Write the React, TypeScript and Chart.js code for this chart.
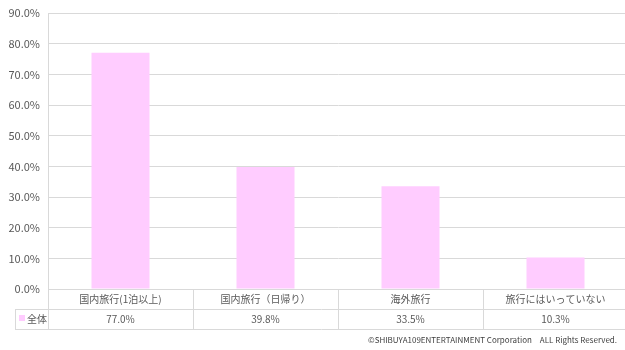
import React, { useEffect, useRef } from "react";
import { Chart, registerables } from "chart.js";

Chart.register(...registerables);

const categories = ["国内旅行(1泊以上)", "国内旅行（日帰り）", "海外旅行", "旅行にはいっていない"];
const seriesName = "全体";
const values = [77.0, 39.8, 33.5, 10.3];
const copyright = "©SHIBUYA109ENTERTAINMENT Corporation　ALL Rights Reserved.";

const PINK = "#ffccff";
const GRID = "#d9d9d9";
const TEXT = "#595959";
const FONT = "'Noto Sans CJK JP', 'Open Sans', sans-serif";

const tablePlugin = {
  id: "dataTable",
  afterDraw(chart: any) {
    const { ctx, chartArea } = chart;
    const x = chart.scales.x;
    const left = chartArea.left;
    const right = chartArea.right;
    const top = chartArea.bottom;
    const mid = top + 20;
    const bot = top + 40;
    const legendLeft = 15;
    ctx.save();
    ctx.strokeStyle = GRID;
    ctx.lineWidth = 1;
    ctx.beginPath();
    ctx.moveTo(legendLeft, mid + 0.5);
    ctx.lineTo(right, mid + 0.5);
    ctx.moveTo(legendLeft, bot + 0.5);
    ctx.lineTo(right, bot + 0.5);
    ctx.moveTo(Math.round(left) + 0.5, top);
    ctx.lineTo(Math.round(left) + 0.5, bot);
    ctx.moveTo(legendLeft + 0.5, mid);
    ctx.lineTo(legendLeft + 0.5, bot);
    const n = categories.length;
    const w = (right - left) / n;
    for (let i = 1; i < n; i++) {
      const vx = Math.round(left + w * i) + 0.5;
      ctx.moveTo(vx, top);
      ctx.lineTo(vx, bot);
    }
    ctx.stroke();

    ctx.fillStyle = TEXT;
    ctx.font = `10px ${FONT}`;
    ctx.textAlign = "center";
    ctx.textBaseline = "middle";
    categories.forEach((c, i) => {
      const cx = x.getPixelForValue(i);
      ctx.fillText(c, cx, top + 10);
      ctx.fillText(values[i].toFixed(1) + "%", cx, mid + 10);
    });
    ctx.fillStyle = PINK;
    ctx.fillRect(19, mid + 6, 6, 6);
    ctx.fillStyle = TEXT;
    ctx.textAlign = "left";
    ctx.fillText(seriesName, 27, mid + 10);
    ctx.font = `8px ${FONT}`;
    ctx.textAlign = "right";
    ctx.fillStyle = "#404040";
    ctx.fillText(copyright, 617, 340);
    ctx.restore();
  },
};

export default function App() {
  const ref = useRef<HTMLCanvasElement>(null);
  useEffect(() => {
    document.body.style.margin = "0";
    document.body.style.overflow = "hidden";
    document.documentElement.style.overflow = "hidden";
    const chart = new Chart(ref.current!, {
      type: "bar",
      data: {
        labels: categories,
        datasets: [
          {
            label: seriesName,
            data: values,
            backgroundColor: PINK,
            categoryPercentage: 1,
            barPercentage: 0.4,
          },
        ],
      },
      options: {
        responsive: false,
        animation: false,
        layout: { padding: { top: 13, bottom: 61, left: 0, right: 0 } },
        plugins: { legend: { display: false }, tooltip: { enabled: false } },
        scales: {
          x: {
            ticks: { display: false },
            grid: { display: false, drawTicks: false },
            border: { display: false },
          },
          y: {
            min: 0,
            max: 90,
            ticks: {
              stepSize: 10,
              color: TEXT,
              font: { size: 11, family: FONT, lineHeight: 0.4 },
              padding: 8,
              callback: (v: any) => Number(v).toFixed(1) + "%",
            },
            grid: { color: GRID, drawTicks: false },
            border: { display: true, color: GRID },
            afterFit: (s: any) => {
              s.width = 48;
            },
          },
        },
      },
      plugins: [tablePlugin],
    });
    return () => chart.destroy();
  }, []);
  return (
    <div style={{ width: 625, height: 350, overflow: "hidden" }}>
      <canvas ref={ref} width={628} height={350} style={{ display: "block" }} />
    </div>
  );
}
